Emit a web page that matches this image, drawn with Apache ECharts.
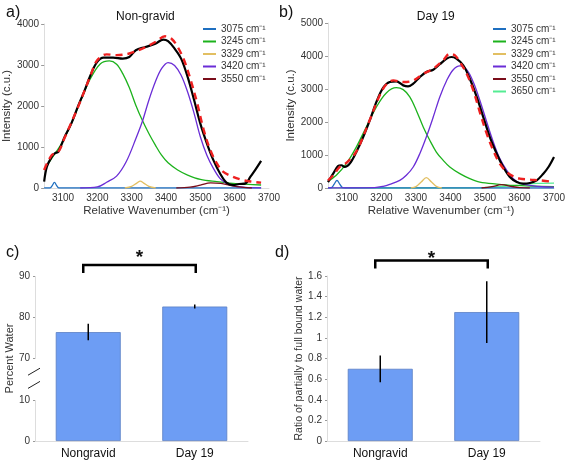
<!DOCTYPE html>
<html><head><meta charset="utf-8">
<script src="https://cdn.jsdelivr.net/npm/echarts@6/dist/echarts.min.js"></script>
<style>html,body{margin:0;padding:0;background:#fff}#c{width:569px;height:466px}</style>
</head><body><div id="c"></div>
<script>
const FONT = '"Liberation Sans", Arial, Helvetica, sans-serif';

// ---- spectra (panel a: Non-gravid, panel b: Day 19) [wavenumber, intensity] ----
const peakNames  = ['3075 cm⁻¹','3245 cm⁻¹','3329 cm⁻¹','3420 cm⁻¹','3550 cm⁻¹','3650 cm⁻¹'];
const peakColors = ['#1f6fc0','#1cb21c','#e2bf62','#6a2dd6','#7a0d1a','#54ec93'];
const xTickValues = [3100,3200,3300,3400,3500,3600,3700];

const aMeasured = [[3045,154],[3053,520],[3067,760],[3077,850],[3086,880],[3105,1250],[3124,1570],[3143,1980],[3161,2340],[3180,2750],[3199,3070],[3218,3180],[3246,3180],[3274,3155],[3293,3195],[3312,3360],[3340,3440],[3369,3520],[3392,3620],[3406,3580],[3425,3400],[3444,3155],[3463,2710],[3482,2140],[3500,1570],[3519,1090],[3538,680],[3557,360],[3576,130],[3595,73],[3613,97],[3632,113],[3646,275],[3660,440],[3677,660]];
const aFit = [[3045,440],[3067,800],[3086,880],[3105,1230],[3143,1960],[3180,2740],[3199,3110],[3227,3260],[3256,3240],[3293,3280],[3331,3400],[3369,3560],[3397,3700],[3416,3640],[3434,3440],[3453,3110],[3472,2630],[3491,2060],[3510,1410],[3529,925],[3548,600],[3566,400],[3595,275],[3623,195],[3651,154],[3677,130]];
const a3075 = [[3045,0],[3062,0],[3068,50],[3075,135],[3082,50],[3088,0],[3677,0]];
const a3245 = [[3045,440],[3067,720],[3096,1090],[3124,1570],[3152,2140],[3180,2670],[3209,3030],[3235,3100],[3256,3020],[3274,2790],[3293,2450],[3312,2020],[3331,1650],[3350,1330],[3369,1045],[3387,800],[3406,615],[3434,440],[3463,316],[3500,210],[3548,154],[3595,113],[3677,73]];
const a3329 = [[3280,0],[3300,40],[3315,120],[3325,170],[3335,120],[3350,40],[3370,0]];
const a3420 = [[3150,0],[3200,25],[3227,140],[3256,290],[3284,640],[3312,1200],[3331,1620],[3350,2140],[3369,2590],[3387,2910],[3406,3060],[3425,2990],[3444,2750],[3463,2340],[3482,1815],[3500,1250],[3519,800],[3538,480],[3557,235],[3576,113],[3595,50],[3630,15],[3677,5]];
const a3550 = [[3430,0],[3470,20],[3500,70],[3530,125],[3560,115],[3590,60],[3620,20],[3650,0]];

const bMeasured = [[3045,180],[3060,435],[3074,667],[3084,690],[3093,636],[3108,737],[3127,1090],[3147,1545],[3166,2050],[3185,2600],[3205,3040],[3224,3210],[3243,3230],[3263,3110],[3277,3080],[3292,3160],[3311,3360],[3330,3515],[3350,3585],[3369,3750],[3389,3920],[3403,3970],[3417,3920],[3437,3720],[3456,3310],[3476,2760],[3495,2150],[3514,1545],[3534,1040],[3553,636],[3572,333],[3592,180],[3611,130],[3630,150],[3650,232],[3669,434],[3684,636],[3700,940]];
const bFit = [[3045,232],[3060,384],[3079,640],[3098,760],[3127,1100],[3166,2060],[3205,3010],[3234,3260],[3263,3210],[3292,3260],[3321,3460],[3350,3615],[3379,3870],[3398,4070],[3413,4020],[3427,3820],[3447,3465],[3466,2960],[3485,2300],[3505,1645],[3524,1140],[3543,737],[3563,485],[3582,353],[3601,283],[3630,253],[3659,232],[3700,180]];
const b3075 = [[3045,0],[3055,10],[3063,120],[3071,232],[3079,120],[3087,10],[3095,0],[3700,0]];
const b3245 = [[3045,200],[3069,384],[3098,737],[3127,1240],[3156,1850],[3185,2450],[3214,2880],[3243,3040],[3263,2980],[3282,2760],[3301,2350],[3321,1850],[3340,1445],[3359,1090],[3379,838],[3398,636],[3427,434],[3456,283],[3485,180],[3534,120],[3582,80],[3700,40]];
const b3329 = [[3285,0],[3300,40],[3315,180],[3330,315],[3345,180],[3360,40],[3375,0]];
const b3420 = [[3045,0],[3180,10],[3205,50],[3224,110],[3253,232],[3272,384],[3292,636],[3311,1040],[3330,1545],[3350,2150],[3369,2760],[3389,3260],[3408,3585],[3427,3700],[3447,3585],[3466,3210],[3485,2660],[3505,2000],[3524,1395],[3543,890],[3563,535],[3582,283],[3601,150],[3630,80],[3679,30],[3700,25]];
const b3550 = [[3490,0],[3520,40],[3548,100],[3575,50],[3600,10],[3630,0]];
const b3650 = [[3045,0],[3450,0],[3500,15],[3550,45],[3600,90],[3650,140],[3700,150]];

// ---- bar panels ----
const groups = ['Nongravid','Day 19'];
const percentWater = [76.4, 82.6];
const percentWaterErr = [2.0, 0.5];
const boundRatio = [0.70, 1.25];
const boundRatioErr = [0.13, 0.30];

const chart = echarts.init(document.getElementById('c'), null, {renderer:'canvas'});
const txt = {fontFamily: FONT, color: '#333'};
const plain = v => String(+(+v).toFixed(2));

function line(gi, name, data, color, width, dashed, z){
  return {type:'line', name, xAxisIndex:gi, yAxisIndex:gi, data, showSymbol:false, symbol:'none',
    smooth:0.35, z: z||2, silent:true,
    lineStyle:{color, width, type: dashed ? [7,5] : 'solid'}, itemStyle:{color}};
}
function specX(gi){
  return {gridIndex:gi, type:'value', min:3045, max:3700,
    name:'Relative Wavenumber (cm⁻¹)', nameLocation:'middle', nameGap:17,
    nameTextStyle:{...txt, fontSize:11.5},
    axisLine:{show:true, lineStyle:{color:'#ddd'}}, axisTick:{show:false},
    axisLabel:{...txt, fontSize:10, margin:5, customValues:xTickValues, formatter:plain},
    splitLine:{show:false}};
}
function specY(gi, max, gap){
  return {gridIndex:gi, type:'value', min:0, max, interval:1000,
    name:'Intensity (c.u.)', nameLocation:'middle', nameGap:gap,
    nameTextStyle:{...txt, fontSize:11.5},
    axisLine:{show:true, lineStyle:{color:'#ddd'}}, axisTick:{show:true, length:3, lineStyle:{color:'#999'}},
    axisLabel:{...txt, fontSize:10, margin:5, formatter:plain}, splitLine:{show:false}};
}
function errSeries(gi, vals, errs){
  return {type:'custom', xAxisIndex:gi, yAxisIndex:gi, z:5, silent:true,
    data: vals.map((v,i)=>[i, v-errs[i], v+errs[i]]),
    renderItem:(params, api)=>{
      const p1 = api.coord([api.value(0), api.value(1)]);
      const p2 = api.coord([api.value(0), api.value(2)]);
      return {type:'line', shape:{x1:p1[0], y1:p1[1], x2:p2[0], y2:p2[1]}, style:{stroke:'#000', lineWidth:1.5}};
    }};
}
const legendBase = {orient:'vertical', icon:'rect', itemWidth:13, itemHeight:2, itemGap:0.5,
  textStyle:{...txt, fontSize:10, lineHeight:12}, padding:0, backgroundColor:'#fff', selectedMode:false};

const option = {
  animation:false,
  backgroundColor:'#fff',
  grid:[
    {left:37, top:24, width:232, height:164},
    {left:328, top:23, width:226, height:165},
    {left:35, top:276, width:213, height:165},
    {left:327, top:276, width:213, height:165}
  ],
  legend:[
    {...legendBase, data:peakNames.slice(0,5), left:203, top:23},
    {...legendBase, data:peakNames.slice(0,6), left:493, top:23}
  ],
  xAxis:[
    specX(0), specX(1),
    {gridIndex:2, type:'category', data:groups, axisLine:{lineStyle:{color:'#ddd'}}, axisTick:{show:false},
      axisLabel:{...txt, color:'#111', fontSize:12, margin:7}},
    {gridIndex:3, type:'category', data:groups, axisLine:{lineStyle:{color:'#ddd'}}, axisTick:{show:false},
      axisLabel:{...txt, color:'#111', fontSize:12, margin:7}}
  ],
  yAxis:[
    specY(0, 4000, 22), specY(1, 5000, 22),
    {gridIndex:2, type:'value', min:0, max:90, interval:10,
      breaks:[{start:10, end:70, gap:'25%'}], breakArea:{show:false},
      name:'Percent Water', nameLocation:'middle', nameGap:13, nameTextStyle:{...txt, fontSize:11},
      axisLine:{show:true, lineStyle:{color:'#ddd'}}, axisTick:{show:true, length:2, lineStyle:{color:'#999'}},
      axisLabel:{...txt, fontSize:10, margin:5, formatter:plain}, splitLine:{show:false}},
    {gridIndex:3, type:'value', min:0, max:1.6, interval:0.2,
      name:'Ratio of partially to full bound water', nameLocation:'middle', nameGap:17, nameTextStyle:{...txt, fontSize:10.5},
      axisLine:{show:true, lineStyle:{color:'#ddd'}}, axisTick:{show:true, length:2, lineStyle:{color:'#999'}},
      axisLabel:{...txt, fontSize:10, margin:5, formatter:plain}, splitLine:{show:false}}
  ],
  series:[
    line(0, peakNames[0], a3075, peakColors[0], 1.3),
    line(0, peakNames[1], a3245, peakColors[1], 1.3),
    line(0, peakNames[2], a3329, peakColors[2], 1.3),
    line(0, peakNames[3], a3420, peakColors[3], 1.3),
    line(0, peakNames[4], a3550, peakColors[4], 1.3),
    line(0, 'a measured', aMeasured, '#000', 2.2, false, 3),
    line(0, 'a fit', aFit, '#ee2020', 2.4, true, 4),
    line(1, peakNames[5], b3650, peakColors[5], 1.3),
    line(1, peakNames[0], b3075, peakColors[0], 1.3),
    line(1, peakNames[1], b3245, peakColors[1], 1.3),
    line(1, peakNames[2], b3329, peakColors[2], 1.3),
    line(1, peakNames[3], b3420, peakColors[3], 1.3),
    line(1, peakNames[4], b3550, peakColors[4], 1.3),
    line(1, 'b measured', bMeasured, '#000', 2.2, false, 3),
    line(1, 'b fit', bFit, '#ee2020', 2.4, true, 4),
    {type:'bar', xAxisIndex:2, yAxisIndex:2, data:percentWater, barWidth:'61%', silent:true,
      itemStyle:{color:'#6d9df4', borderColor:'#5a7fc4', borderWidth:0.8}},
    errSeries(2, percentWater, percentWaterErr),
    {type:'bar', xAxisIndex:3, yAxisIndex:3, data:boundRatio, barWidth:'61%', silent:true,
      itemStyle:{color:'#6d9df4', borderColor:'#5a7fc4', borderWidth:0.8}},
    errSeries(3, boundRatio, boundRatioErr)
  ]
};
chart.setOption(option);

// annotations derived from the axes
const g = [];
function txtEl(x, y, s, size, weight, align){
  return {type:'text', x, y, z:10, style:{text:s, font:(weight||'normal')+' '+size+'px '+FONT, fill:'#111',
    textAlign:align||'left', textVerticalAlign:'middle'}};
}
const aTitleX = chart.convertToPixel({xAxisIndex:0}, 3340);
const bTitleX = chart.convertToPixel({xAxisIndex:1}, 3340);
g.push(txtEl(6, 13, 'a)', 16));
g.push(txtEl(279, 13, 'b)', 16));
g.push(txtEl(6, 253, 'c)', 16));
g.push(txtEl(275, 253, 'd)', 16));
g.push(txtEl(aTitleX, 17, 'Non-gravid', 12, 'normal', 'center'));
g.push(txtEl(bTitleX+6, 17, 'Day 19', 12, 'normal', 'center'));

function bracket(gi, dy, starY){
  const p0 = chart.convertToPixel({gridIndex:gi}, [0, 0]);
  const p1 = chart.convertToPixel({gridIndex:gi}, [1, 0]);
  const top = chart.getModel().getComponent('grid', gi).coordinateSystem.getRect().y;
  const x0 = p0[0]-5, x1 = p1[0]+1, y = top - dy;
  g.push({type:'polyline', z:10, shape:{points:[[x0, y+8],[x0, y],[x1, y],[x1, y+8]]},
    style:{stroke:'#000', lineWidth:2.5, fill:null}});
  g.push(txtEl((x0+x1)/2, starY, '*', 19, 'bold', 'center'));
}
bracket(2, 11, 258);
bracket(3, 15.5, 259);

// axis break marks on panel c
const y10 = chart.convertToPixel({yAxisIndex:2}, 10);
const y70 = chart.convertToPixel({yAxisIndex:2}, 70);
const left = chart.getModel().getComponent('grid', 2).coordinateSystem.getRect().x;
[0.32, 0.64].forEach(f=>{
  const yc = y70 + (y10 - y70)*f;
  g.push({type:'line', z:10, shape:{x1:left-7, y1:yc+3.5, x2:left+5, y2:yc-3.5}, style:{stroke:'#222', lineWidth:1}});
});
chart.setOption({graphic:g});
</script></body></html>
